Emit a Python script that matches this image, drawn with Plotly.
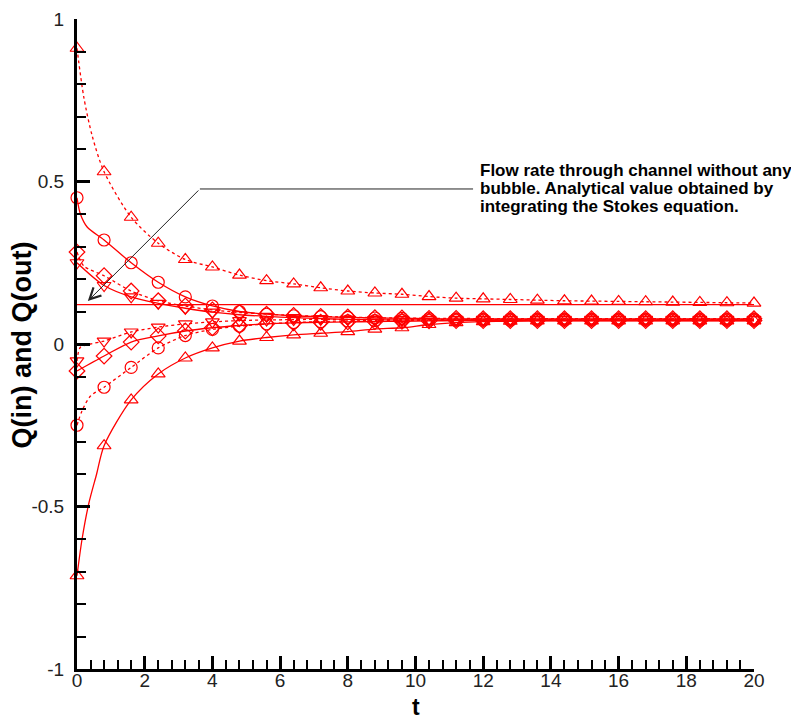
import plotly.graph_objects as go

# marker times (every 0.8)
t = [0, 0.8, 1.6, 2.4, 3.2, 4.0, 4.8, 5.6, 6.4, 7.2, 8.0, 8.8, 9.6,
     10.4, 11.2, 12.0, 12.8, 13.6, 14.4, 15.2, 16.0, 16.8, 17.6, 18.4, 19.2, 20.0]

# upper branch
q_up_dot = [0.91, 0.53, 0.39, 0.31, 0.26, 0.237, 0.212, 0.195, 0.185, 0.173, 0.163, 0.157, 0.153,
            0.146, 0.141, 0.139, 0.137, 0.135, 0.133, 0.132, 0.131, 0.130, 0.129, 0.128, 0.127, 0.126]
q_circ_solid = [0.45, 0.32, 0.25, 0.19, 0.145, 0.117, 0.10, 0.092, 0.087, 0.084, 0.082, 0.080, 0.079,
                0.078, 0.077, 0.077, 0.077, 0.077, 0.077, 0.077, 0.077, 0.077, 0.077, 0.077, 0.077, 0.077]
q_diam_dot = [0.283, 0.21, 0.163, 0.133, 0.117, 0.105, 0.097, 0.092, 0.088, 0.085, 0.083, 0.081, 0.080,
              0.079, 0.079, 0.078, 0.078, 0.078, 0.078, 0.078, 0.078, 0.078, 0.078, 0.078, 0.078, 0.078]
q_down_solid = [0.25, 0.18, 0.145, 0.125, 0.11, 0.098, 0.090, 0.085, 0.081, 0.078, 0.076, 0.075, 0.074,
                0.074, 0.074, 0.074, 0.074, 0.074, 0.074, 0.074, 0.074, 0.074, 0.074, 0.074, 0.074, 0.074]

# lower branch
q_down_dot = [-0.052, 0.009, 0.037, 0.052, 0.062, 0.068, 0.072, 0.074, 0.075, 0.076, 0.076, 0.076, 0.076,
              0.076, 0.076, 0.076, 0.076, 0.076, 0.076, 0.076, 0.076, 0.076, 0.076, 0.076, 0.076, 0.076]
q_diam_solid = [-0.083, -0.037, 0.006, 0.025, 0.040, 0.050, 0.057, 0.062, 0.065, 0.067, 0.068, 0.069, 0.070,
                0.071, 0.072, 0.072, 0.072, 0.072, 0.072, 0.072, 0.072, 0.072, 0.072, 0.072, 0.072, 0.072]
q_circ_dot = [-0.25, -0.133, -0.072, -0.012, 0.026, 0.045, 0.055, 0.062, 0.066, 0.069, 0.071, 0.072, 0.073,
              0.073, 0.073, 0.073, 0.073, 0.073, 0.073, 0.073, 0.073, 0.073, 0.073, 0.073, 0.073, 0.073]
q_tri_solid = [-0.713, -0.313, -0.172, -0.092, -0.043, -0.012, 0.009, 0.020, 0.028, 0.033, 0.038, 0.046, 0.050,
               0.060, 0.066, 0.069, 0.070, 0.071, 0.071, 0.071, 0.071, 0.071, 0.071, 0.071, 0.071, 0.071]

t_early_up = [0.2, 0.45]
q_early_up = [0.76, 0.64]
t_early_circ = [0.1, 0.3]
q_early_circ = [0.40, 0.36]
t_early_diam = [0.2]
q_early_diam = [0.24]
t_early_down_dot = [0.1, 0.4]
q_early_down_dot = [-0.01, 0.0]
t_early_circ_dot = [0.15, 0.4]
q_early_circ_dot = [-0.205, -0.16]
t_early_tri = [0.15, 0.35, 0.58]
q_early_tri = [-0.60, -0.49, -0.40]

q_analytical = 0.121

note_lines = ['Flow rate through channel without any',
              'bubble. Analytical value obtained by',
              'integrating the Stokes equation.']

RED = '#ff0000'

series = [
    (q_up_dot, t_early_up, q_early_up, 'dot', 'triangle-up-open'),
    (q_circ_solid, t_early_circ, q_early_circ, 'solid', 'circle-open'),
    (q_diam_dot, t_early_diam, q_early_diam, 'dot', 'diamond-open'),
    (q_down_solid, [], [], 'solid', 'triangle-down-open'),
    (q_down_dot, t_early_down_dot, q_early_down_dot, 'dot', 'triangle-down-open'),
    (q_diam_solid, [], [], 'solid', 'diamond-open'),
    (q_circ_dot, t_early_circ_dot, q_early_circ_dot, 'dot', 'circle-open'),
    (q_tri_solid, t_early_tri, q_early_tri, 'solid', 'triangle-up-open'),
]

fig = go.Figure()

fig.add_trace(go.Scatter(x=[t[0], t[-1]], y=[q_analytical, q_analytical], mode='lines',
                         line=dict(color=RED, width=1.3), hoverinfo='skip'))

for q, te, qe, dash, sym in series:
    pts = sorted(zip(t + te, q + qe))
    fig.add_trace(go.Scatter(x=[p[0] for p in pts], y=[p[1] for p in pts], mode='lines',
                             line=dict(color=RED, width=1.3, dash=dash, shape='spline', smoothing=0.8),
                             cliponaxis=False))
    fig.add_trace(go.Scatter(x=t, y=q, mode='markers', cliponaxis=False,
                             marker=dict(symbol=sym, size=12, color=RED, line=dict(color=RED, width=1.2))))

tick_font = dict(family='Liberation Sans', size=19, color='#222222')
axis_common = dict(showline=True, linecolor='black', linewidth=3, ticks='inside', tickcolor='black',
                   tickwidth=3, ticklen=13, showgrid=False, zeroline=False, tickfont=tick_font,
                   mirror=False, automargin=False, ticklabeloverflow='allow')

fig.update_xaxes(range=[0, 20], tickvals=[0, 2, 4, 6, 8, 10, 12, 14, 16, 18, 20],
                 minor=dict(ticks='inside', ticklen=9, tickwidth=2, tickcolor='black', dtick=0.4, tick0=0),
                 ticklabelstandoff=-8, **axis_common)
fig.update_yaxes(range=[-1, 1], tickvals=[-1, -0.5, 0, 0.5, 1], ticktext=['-1', '-0.5', '0', '0.5', '1'],
                 minor=dict(ticks='inside', ticklen=9, tickwidth=2, tickcolor='black', dtick=0.1, tick0=0),
                 ticklabelstandoff=6, **axis_common)

# leader line + arrow to the analytical value
fig.add_shape(type='line', x0=3.63, y0=0.477, x1=11.7, y1=0.477, xref='x', yref='y',
              line=dict(color='#222222', width=1))
fig.add_annotation(x=0.32, y=0.132, ax=3.63, ay=0.477, axref='x', ayref='y', xref='x', yref='y',
                   text='', showarrow=True, arrowhead=5, arrowsize=2.2, arrowwidth=1, arrowcolor='#222222')
for i, line in enumerate(note_lines):
    fig.add_annotation(x=11.85, y=0.4785, yshift=18 * (1 - i), xref='x', yref='y', xanchor='left',
                       yanchor='middle', align='left', showarrow=False, text='<b>' + line + '</b>',
                       font=dict(family='Liberation Sans', size=17, color='black'))

# axis titles
fig.add_annotation(x=0.5, y=-0.0585, xref='paper', yref='paper', text='<b>t</b>', showarrow=False,
                   xanchor='center', yanchor='middle', font=dict(family='Liberation Sans', size=23, color='black'))
fig.add_annotation(x=-0.081, y=0.498, xref='paper', yref='paper', text='<b>Q(in) and Q(out)</b>', showarrow=False,
                   textangle=-90, xanchor='center', yanchor='middle',
                   font=dict(family='Liberation Sans', size=27, color='black'))

# page body adds an 8px offset, so the figure is a little smaller than the window;
# top margin leaves room for the "1" tick label
fig.update_layout(width=791, height=714, showlegend=False, plot_bgcolor='white', paper_bgcolor='white',
                  margin=dict(l=69, r=45, t=11, b=53))

fig.write_html("out.html")
